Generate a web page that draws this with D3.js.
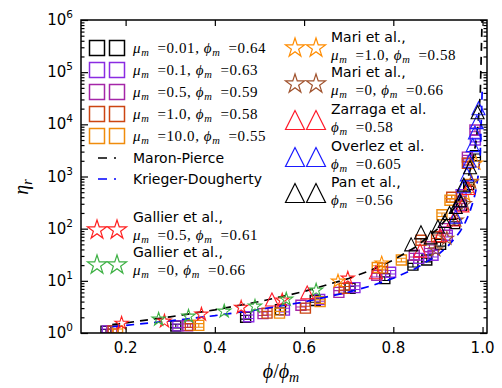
<!DOCTYPE html>
<html><head><meta charset="utf-8">
<script src="https://cdn.jsdelivr.net/npm/d3@7"></script>
<style>body{margin:0;background:#fff}svg{display:block}</style>
</head><body>
<svg id="c" width="502" height="388"></svg>
<script>
// ---------------- data ----------------
const xTickValues=[0.2,0.4,0.6,0.8,1.0];
const xTickLabels=['0.2','0.4','0.6','0.8','1.0'];
const yTickValues=[1,10,100,1000,10000,100000,1000000];
const yTickExps=['0','1','2','3','4','5','6'];

// simulations (squares)
const simMu=['0.01','0.1','0.5','1.0','10.0'];
const simPhiM=['0.64','0.63','0.59','0.58','0.55'];
const simColors=['#000000','#8a2be2','#a526a8','#cc4512','#f08c0c'];
const sim001X=[0.156,0.3125,0.469,0.547,0.625,0.703,0.781,0.844,0.875,0.906,0.9375,0.953,0.969,0.984];
const sim001Y=[1.08,1.36,2.0,2.8,4.2,7.2,11.0,20,25,50,125,280,700,2500];
const sim01X=[0.159,0.317,0.476,0.556,0.635,0.714,0.794,0.857,0.889,0.921,0.952,0.968,0.984];
const sim01Y=[1.1,1.37,2.05,2.75,4.4,7.4,14.6,27,31,75,450,1800,5000];
const sim05X=[0.169,0.339,0.508,0.593,0.678,0.763,0.847,0.881,0.915,0.949,0.966,0.983];
const sim05Y=[1.1,1.38,2.35,3.4,6.0,12.8,31,45,100,280,2350,7800];
const sim1X=[0.172,0.345,0.517,0.603,0.69,0.776,0.862,0.897,0.931,0.966];
const sim1Y=[1.1,1.4,2.4,3.0,7.2,17.5,60,70,400,1800];
const sim10X=[0.182,0.364,0.545,0.636,0.764,0.818,0.909,0.927];
const sim10Y=[1.1,1.4,2.4,4.0,18,25,185,350];

// model curves
const curveX=[0.17,0.2,0.3,0.4,0.5,0.6,0.7,0.75,0.8,0.85,0.9,0.92,0.94,0.95,0.96,0.97,0.98,0.985,0.99,0.995,0.999];
const maronPierceY=[1.45,1.56,2.04,2.78,4.0,6.25,11.1,16,25,44.4,100,156,278,400,625,1111,2500,4444,10000,40000,1000000];
const kriegerX=[0.17,0.2,0.3,0.4,0.5,0.6,0.7,0.75,0.8,0.85,0.9,0.92,0.94,0.95,0.96,0.97,0.98,0.985,0.99,0.995,0.9992];
const kriegerY=[1.32,1.40,1.71,2.15,2.83,3.95,6.09,8.0,11.2,17.2,31.6,44.2,68,89,125,192,354,544,1000,2830,44000];
const curveNames=['Maron-Pierce','Krieger-Dougherty'];
const curveColors=['#000000','#0000ff'];

// experiments
const expTitles=['Gallier et al.,','Gallier et al.,','Mari et al.,','Mari et al.,','Zarraga et al.','Overlez et al.','Pan et al.,'];
const expMu=['0.5','0','1.0','0',null,null,null];
const expPhiM=['0.61','0.66','0.58','0.66','0.58','0.605','0.56'];
const expColors=['#ff2020','#3cb043','#ff8c00','#a0522d','#ff1a2a','#1a1aff','#000000'];
const expMarkers=['star','star','star','star','tri','tri','tri'];
const gallier05X=[0.191,0.287,0.37,0.459,0.551,0.698];
const gallier05Y=[1.53,1.68,2.28,3.1,4.25,11.2];
const gallier0X=[0.274,0.341,0.421,0.49,0.56,0.627];
const gallier0Y=[1.83,2.09,2.61,3.25,4.43,6.6];
const mari1X=[0.676,0.774,0.962,0.975,0.985];
const mari1Y=[9.8,21.8,450,800,1800];
const mari0X=[0.895,0.92,0.942,0.96,0.975];
const mari0Y=[39,65,145,300,780];
const zarragaX=[0.528,0.607,0.761,0.86,0.905,0.935,0.955,0.968];
const zarragaY=[4.4,6.0,14.6,38,75,150,280,600];
const overlezX=[0.94,0.95,0.958,0.965,0.971,0.978,0.983,0.987,0.991];
const overlezY=[170,350,650,1100,2000,4000,7000,11000,20400];
const panX=[0.84,0.862,0.884,0.9,0.915,0.926,0.94,0.949,0.958,0.972,0.989];
const panY=[50,85,68,110,140,200,260,350,700,1500,17000];

// ---------------- drawing ----------------
const M={l:81,r:487,t:20,b:333};
const x=d3.scaleLinear().domain([0.1,1.01]).range([M.l,M.r]);
const y=d3.scaleLog().domain([1,1e6]).range([M.b,M.t]);
const svg=d3.select('#c');
svg.append('rect').attr('width',502).attr('height',388).attr('fill','#fff');
svg.append('defs').append('clipPath').attr('id','clip').append('rect')
  .attr('x',M.l).attr('y',M.t).attr('width',M.r-M.l).attr('height',M.b-M.t);
const plot=svg.append('g').attr('clip-path','url(#clip)');

const zip=(a,b)=>a.map((v,i)=>[v,b[i]]);
const simData=[zip(sim001X,sim001Y),zip(sim01X,sim01Y),zip(sim05X,sim05Y),zip(sim1X,sim1Y),zip(sim10X,sim10Y)];
const expData=[zip(gallier05X,gallier05Y),zip(gallier0X,gallier0Y),zip(mari1X,mari1Y),zip(mari0X,mari0Y),zip(zarragaX,zarragaY),zip(overlezX,overlezY),zip(panX,panY)];
const curveData=[zip(curveX,maronPierceY),zip(kriegerX,kriegerY)];

function starPath(R){const p=[];for(let i=0;i<10;i++){const r=i%2?R*0.382:R;const a=-Math.PI/2+i*Math.PI/5;p.push([(r*Math.cos(a)).toFixed(2),(r*Math.sin(a)).toFixed(2)]);}return 'M'+p.join('L')+'Z';}
function triPath(s){return `M0,${-s}L${-s},${s}L${s},${s}Z`;}
function sqPath(s){return `M${-s},${-s}H${s}V${s}H${-s}Z`;}

// squares with error bars
simData.forEach((d,i)=>{
  const g=plot.append('g').attr('stroke',simColors[i]).attr('fill','none').attr('stroke-width',1.4);
  d.forEach(p=>{
    const gx=g.append('g').attr('transform',`translate(${x(p[0])},${y(p[1])})`);
    gx.append('path').attr('d',sqPath(5));
    gx.append('path').attr('d','M-5,-1.8H5M-5,1.8H5M0,-1.8V1.8').attr('stroke-width',1.1);
  });
});

// model curves
const line=d3.line().x(d=>x(d[0])).y(d=>y(d[1]));
curveData.forEach((d,i)=>{
  plot.append('path').datum(d).attr('d',line).attr('fill','none').attr('stroke',curveColors[i])
    .attr('stroke-width',1.7).attr('stroke-dasharray','8,6');
});

// experiments
expData.forEach((d,i)=>{
  const path=expMarkers[i]==='star'?starPath(7):triPath(6.5);
  plot.append('g').selectAll('path').data(d).join('path')
    .attr('d',path).attr('transform',p=>`translate(${x(p[0])},${y(p[1])})`)
    .attr('fill','none').attr('stroke',expColors[i]).attr('stroke-width',1.1);
});

// axes
const minor=[];
for(let k=0;k<6;k++)for(let m=2;m<10;m++)minor.push(m*Math.pow(10,k));
function styleAxis(g){g.select('.domain').remove();g.selectAll('line').attr('stroke','#000').attr('stroke-width',1.2);g.selectAll('text').remove();}
svg.append('g').attr('transform',`translate(0,${M.b})`).call(d3.axisBottom(x).tickValues(xTickValues).tickSize(-6)).call(styleAxis);
svg.append('g').attr('transform',`translate(0,${M.t})`).call(d3.axisTop(x).tickValues(xTickValues).tickSize(-6)).call(styleAxis);
svg.append('g').attr('transform',`translate(${M.l},0)`).call(d3.axisLeft(y).tickValues(yTickValues).tickSize(-7)).call(styleAxis);
svg.append('g').attr('transform',`translate(${M.l},0)`).call(d3.axisLeft(y).tickValues(minor).tickSize(-3.5)).call(styleAxis);
svg.append('g').attr('transform',`translate(${M.r},0)`).call(d3.axisRight(y).tickValues(yTickValues).tickSize(-7)).call(styleAxis);
svg.append('g').attr('transform',`translate(${M.r},0)`).call(d3.axisRight(y).tickValues(minor).tickSize(-3.5)).call(styleAxis);
svg.append('rect').attr('x',M.l).attr('y',M.t).attr('width',M.r-M.l).attr('height',M.b-M.t)
  .attr('fill','none').attr('stroke','#000').attr('stroke-width',1.5);

const sans='"DejaVu Sans", sans-serif';
const serif='"Liberation Serif","DejaVu Serif", serif';
// tick labels
svg.append('g').selectAll('text').data(xTickValues).join('text')
  .attr('x',d=>x(d)).attr('y',353).attr('text-anchor','middle')
  .attr('font-family',sans).attr('font-size',15).text((d,i)=>xTickLabels[i]);
yTickValues.forEach((v,i)=>{
  const t=svg.append('text').attr('x',73).attr('y',y(v)+5).attr('text-anchor','end')
    .attr('font-family',sans).attr('font-size',15);
  t.append('tspan').text('10');
  t.append('tspan').attr('dy',-7).attr('font-size',10.5).text(yTickExps[i]);
});

// axis titles
const xl=svg.append('text').attr('x',281).attr('y',378).attr('text-anchor','middle')
  .attr('font-family',serif).attr('font-size',20);
xl.append('tspan').attr('font-style','italic').text('ϕ');
xl.append('tspan').text('/');
xl.append('tspan').attr('font-style','italic').text('ϕ');
xl.append('tspan').attr('font-style','italic').attr('font-size',14).attr('dy',4).text('m');
const yl=svg.append('text').attr('transform','translate(28,187) rotate(-90)').attr('text-anchor','middle')
  .attr('font-family',serif).attr('font-size',20);
yl.append('tspan').attr('font-style','italic').text('η');
yl.append('tspan').attr('font-style','italic').attr('font-size',14).attr('dy',4).text('r');

// math line helper
function mathLine(g,x0,y0,mu,phim){
  const t=g.append('text').attr('x',x0).attr('y',y0).attr('font-family',serif).attr('font-size',15)
    .attr('letter-spacing',0.6);
  if(mu!==null){
    t.append('tspan').attr('font-style','italic').text('μ');
    t.append('tspan').attr('font-style','italic').attr('font-size',10.5).attr('dy',3).text('m');
    t.append('tspan').attr('dy',-3).text('\u2002=' + mu + ', ');
  }
  t.append('tspan').attr('font-style','italic').text('ϕ');
  t.append('tspan').attr('font-style','italic').attr('font-size',10.5).attr('dy',3).text('m');
  t.append('tspan').attr('dy',-3).text('\u2002=' + phim);
}

const leg=svg.append('g');
// left legend: simulations
const simRowY=[48,70,92,114,136];
simRowY.forEach((ry,i)=>{
  [97,117].forEach(cx=>leg.append('path').attr('d',sqPath(7.5)).attr('transform',`translate(${cx},${ry})`)
    .attr('fill','none').attr('stroke',simColors[i]).attr('stroke-width',1.5));
  mathLine(leg,133,ry+5,simMu[i],simPhiM[i]);
});
const curveRowY=[158,179];
curveRowY.forEach((ry,i)=>{
  leg.append('line').attr('x1',98).attr('x2',116).attr('y1',ry).attr('y2',ry)
    .attr('stroke',curveColors[i]).attr('stroke-width',1.7).attr('stroke-dasharray','9,7');
  leg.append('text').attr('x',133).attr('y',ry+5).attr('font-family',sans).attr('font-size',14).text(curveNames[i]);
});
// experiments legend
const expPos=[[97,117,230,133,223],[97,117,265,133,258],[295,316,48,331,43],[295,316,84,331,78],[295,316,120,331,115],[295,316,157,331,152],[295,316,193,331,188]];
expPos.forEach((p,i)=>{
  const path=expMarkers[i]==='star'?starPath(10):triPath(9.5);
  [p[0],p[1]].forEach(cx=>leg.append('path').attr('d',path).attr('transform',`translate(${cx},${p[2]})`)
    .attr('fill','none').attr('stroke',expColors[i]).attr('stroke-width',1.2));
  leg.append('text').attr('x',p[3]).attr('y',p[4]-1.5).attr('font-family',sans).attr('font-size',14).text(expTitles[i]);
  mathLine(leg,p[3],p[4]+16.5,expMu[i],expPhiM[i]);
});
</script>
</body></html>
